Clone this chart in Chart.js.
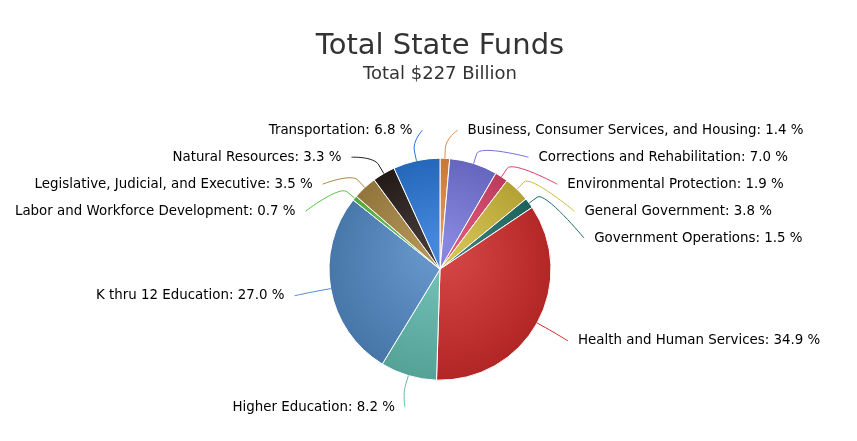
<!DOCTYPE html>
<html>
<head>
<meta charset="utf-8">
<script src="https://cdn.jsdelivr.net/npm/chart.js@4"></script>
<style>
  html, body { margin: 0; padding: 0; background: #fff; }
  #wrap { width: 857px; height: 441px; }
</style>
</head>
<body>
<div id="wrap"><canvas id="myChart"></canvas></div>
<script>
// data (percent of total state funds)
const categories = [
  'Business, Consumer Services, and Housing',
  'Corrections and Rehabilitation',
  'Environmental Protection',
  'General Government',
  'Government Operations',
  'Health and Human Services',
  'Higher Education',
  'K thru 12 Education',
  'Labor and Workforce Development',
  'Legislative, Judicial, and Executive',
  'Natural Resources',
  'Transportation'
];
const shares = [1.4, 7.0, 1.9, 3.8, 1.5, 34.9, 8.2, 27.0, 0.7, 3.5, 3.3, 6.8];
const titleText = 'Total State Funds';
const subtitleText = 'Total $227 Billion';

const sliceColors = [
  '#e5883a', '#7272dc', '#db3f66', '#d0bb38', '#1c6e68', '#d22828',
  '#60bdb0', '#4f88c6', '#5dc04a', '#a8843e', '#231815', '#2474d6'
];

const PIE_R = 111;
// labels start at PIE_R + 35 along the slice middle, then sit on an ellipse
const LABEL_START = 146;
const LABEL_RX = 148;
const LABEL_RY = 141;
const LABEL_GAP = 27;
const FONT = '"Lucida Grande", "DejaVu Sans", sans-serif';

function mix(hex, target, t) {
  const n = parseInt(hex.slice(1), 16);
  const r = (n >> 16) & 255, g = (n >> 8) & 255, b = n & 255;
  const m = v => Math.round(v + (target - v) * t);
  return 'rgb(' + m(r) + ',' + m(g) + ',' + m(b) + ')';
}

function sliceFill(c) {
  const base = sliceColors[c.dataIndex];
  const area = c.chart.chartArea;
  if (!area) return base;
  const cx = (area.left + area.right) / 2;
  const cy = (area.top + area.bottom) / 2;
  const g = c.chart.ctx.createRadialGradient(cx, cy - 25, 0, cx, cy, PIE_R * 1.15);
  g.addColorStop(0, mix(base, 255, 0.16));
  g.addColorStop(1, mix(base, 0, 0.17));
  return g;
}

// outside labels with soft connectors
const outsideLabels = {
  id: 'outsideLabels',
  afterDatasetsDraw(chart) {
    const ctx = chart.ctx;
    const arcs = chart.getDatasetMeta(0).data;
    if (!arcs.length) return;
    const cx = arcs[0].x, cy = arcs[0].y;
    const top = cy - LABEL_RY + 1, bottom = cy + LABEL_RY - 4;
    const items = arcs.map((a, i) => {
      const mid = (a.startAngle + a.endAngle) / 2;
      return {
        i, mid,
        left: Math.cos(mid) < 0,
        y: cy + LABEL_START * Math.sin(mid)
      };
    });
    [true, false].forEach(side => {
      const list = items.filter(o => o.left === side).sort((p, q) => p.y - q.y);
      for (let k = 0; k < list.length; k++) {
        if (k === 0) list[k].y = Math.max(list[k].y, top);
        else list[k].y = Math.max(list[k].y, list[k - 1].y + LABEL_GAP);
      }
      for (let k = list.length - 1; k >= 0; k--) {
        if (k === list.length - 1) list[k].y = Math.min(list[k].y, bottom);
        else list[k].y = Math.min(list[k].y, list[k + 1].y - LABEL_GAP);
      }
    });

    ctx.save();
    ctx.font = '13.4px ' + FONT;
    ctx.textBaseline = 'middle';
    items.forEach(o => {
      const r = arcs[o.i].outerRadius;
      const ux = Math.cos(o.mid), uy = Math.sin(o.mid);
      const ex = cx + r * ux, ey = cy + r * uy;
      const bx = cx + (r + 10) * ux, by = cy + (r + 10) * uy;
      const t = Math.min(Math.abs(o.y - cy) / LABEL_RY, 1);
      const dx = LABEL_RX * Math.sqrt(1 - t * t);
      const lx = o.left ? cx - dx : cx + dx;
      const ly = o.y + 1;

      ctx.strokeStyle = sliceColors[o.i];
      ctx.lineWidth = 1;
      ctx.beginPath();
      ctx.moveTo(lx, ly);
      ctx.bezierCurveTo(lx, ly, 2 * bx - ex, 2 * by - ey, bx, by);
      ctx.lineTo(ex, ey);
      ctx.stroke();

      ctx.fillStyle = '#000';
      ctx.textAlign = o.left ? 'right' : 'left';
      const txt = categories[o.i] + ': ' + shares[o.i].toFixed(1) + ' %';
      ctx.fillText(txt, o.left ? lx - 10 : lx + 10, ly);
    });
    ctx.restore();
  }
};

function graf() {
  const ctx = document.getElementById('myChart');
  new Chart(ctx, {
    type: 'pie',
    data: {
      labels: categories,
      datasets: [{
        data: shares,
        backgroundColor: sliceFill,
        borderColor: '#fff',
        borderWidth: 1,
        radius: PIE_R
      }]
    },
    options: {
      responsive: true,
      maintainAspectRatio: false,
      animation: false,
      events: [],
      layout: { padding: { left: 23, top: 0, right: 0, bottom: 0 } },
      plugins: {
        legend: { display: false },
        tooltip: { enabled: false },
        title: {
          display: true,
          text: titleText,
          color: '#333',
          font: { family: FONT, size: 29, weight: 'normal' },
          padding: { top: 29, bottom: 0 }
        },
        subtitle: {
          display: true,
          text: subtitleText,
          color: '#333',
          font: { family: FONT, size: 18, weight: 'normal' },
          padding: { top: 0, bottom: 12 }
        }
      }
    },
    plugins: [outsideLabels]
  });
}

graf();
</script>
</body>
</html>
